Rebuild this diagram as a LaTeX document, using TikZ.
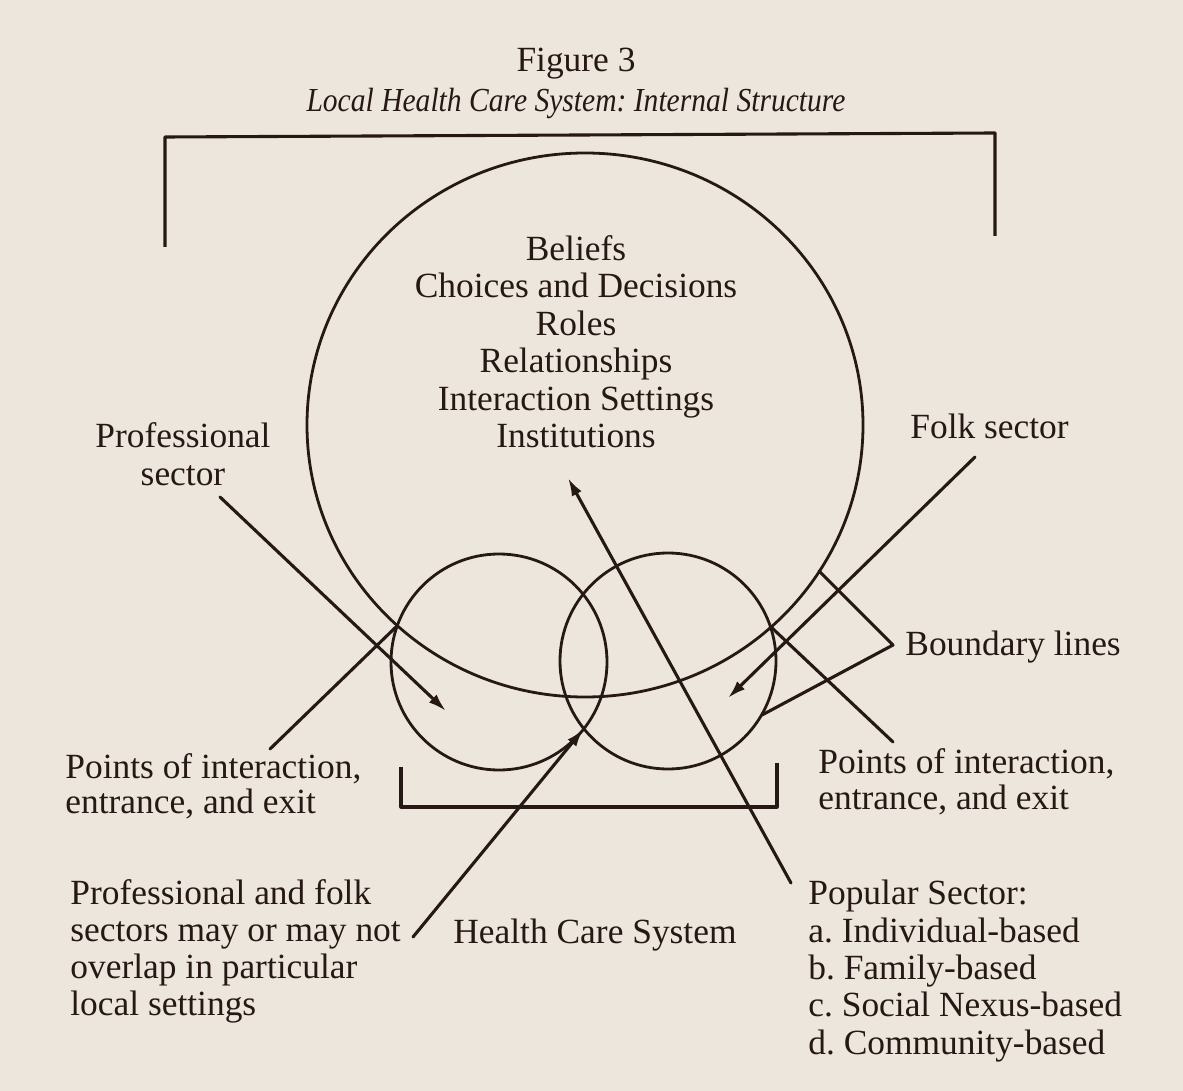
\documentclass[tikz,border=0pt]{standalone}
\usepackage{fontspec}
\setmainfont{Liberation Serif}
\usetikzlibrary{arrows.meta,shapes.geometric}
\definecolor{paper}{RGB}{236,230,220}
\definecolor{ink}{RGB}{38,24,20}
\frenchspacing
\begin{document}
\begin{tikzpicture}[x=0.5pt,y=-0.5pt,
  ln/.style={draw=ink, line width=1.55pt, line cap=round, line join=round},
  circ/.style={draw=ink, line width=1.4pt, inner sep=0pt},
  arr/.style={ln, -{Latex[length=9pt,width=5.5pt]}},
  lbl/.style={text=ink, inner sep=0pt, font=\fontsize{17.7}{18.5}\selectfont},
]
\fill[paper] (0,0) rectangle (1183,1091);
\useasboundingbox (0,0) rectangle (1183,1091);

% circles
\node[circ, ellipse, minimum width=278pt, minimum height=272pt] (big) at (585,425) {};
\node[circ, circle, minimum size=108pt] (lc) at (499,662) {};
\node[circ, circle, minimum size=108pt] (rc) at (668,661) {};

% texts (anchor=base is the baseline of the last line)
\node[lbl, anchor=base] (fig) at (576,72) {Figure 3};
\node[lbl, anchor=base] (title) at (576,112) {\scalebox{0.88}[1]{\fontsize{16.8}{19}\selectfont\itshape Local Health Care System: Internal Structure}};
\node[lbl, anchor=base, align=center, font=\fontsize{17.7}{18.75}\selectfont] (items) at (576,447.5)
  {Beliefs\\Choices and Decisions\\Roles\\Relationships\\Interaction Settings\\Institutions};
\node[lbl, anchor=base, align=center, font=\fontsize{17.7}{19}\selectfont] (prof) at (183,485) {Professional\\sector};
\node[lbl, anchor=base west] (folk) at (910,438) {Folk sector};
\node[lbl, anchor=base west] (bound) at (905,655) {Boundary lines};
\node[lbl, anchor=base west, align=left, font=\fontsize{17.7}{17.5}\selectfont] (ptl) at (65,813) {Points of interaction,\\entrance, and exit};
\node[lbl, anchor=base west, align=left, font=\fontsize{17.7}{17.8}\selectfont] (ptr) at (818,809) {Points of interaction,\\entrance, and exit};
\node[lbl, anchor=base west, align=left, font=\fontsize{17.7}{18.35}\selectfont] (overlap) at (70,1015)
  {Professional and folk\\sectors may or may not\\overlap in particular\\local settings};
\node[lbl, anchor=base west] (hcs) at (453,943) {Health Care System};
\node[lbl, anchor=base west, align=left, font=\fontsize{17.7}{18.65}\selectfont] (pop) at (808,1054)
  {Popular Sector:\\a. Individual-based\\b. Family-based\\c. Social Nexus-based\\d. Community-based};

% connector points
\coordinate (pL) at (397,626);
\coordinate (pR) at (771,627);
\coordinate (bB) at (819,571);
\coordinate (bS) at (762,715);
\coordinate (bT) at (893,645);
\coordinate (ov) at (583.5,729);
\coordinate (profS) at (220,497);
\coordinate (profE) at (446,711);
\coordinate (folkS) at (975,457);
\coordinate (folkE) at (728,698);
\coordinate (popS) at (791,883);
\coordinate (popE) at (568,478);
\coordinate (ovS) at (413,937);
\coordinate (ptLs) at (270,749);
\coordinate (ptRs) at (893,742);

% connectors
\draw[arr] (profS) -- (profE);
\draw[arr] (folkS) -- (folkE);
\draw[arr] (popS) -- (popE);
\draw[arr] (ovS) -- (ov);
\draw[ln] (ptLs) -- (pL);
\draw[ln] (pR) -- (ptRs);
\draw[ln] (bB) -- (bT) -- (bS);

% brackets
\draw[ln, line cap=butt] (165,247) -- (165,137) -- (995,133) -- (995,236);
\draw[ln, line cap=butt] (401,767) -- (401,807) -- (777,807) -- (777,763);
\end{tikzpicture}
\end{document}
